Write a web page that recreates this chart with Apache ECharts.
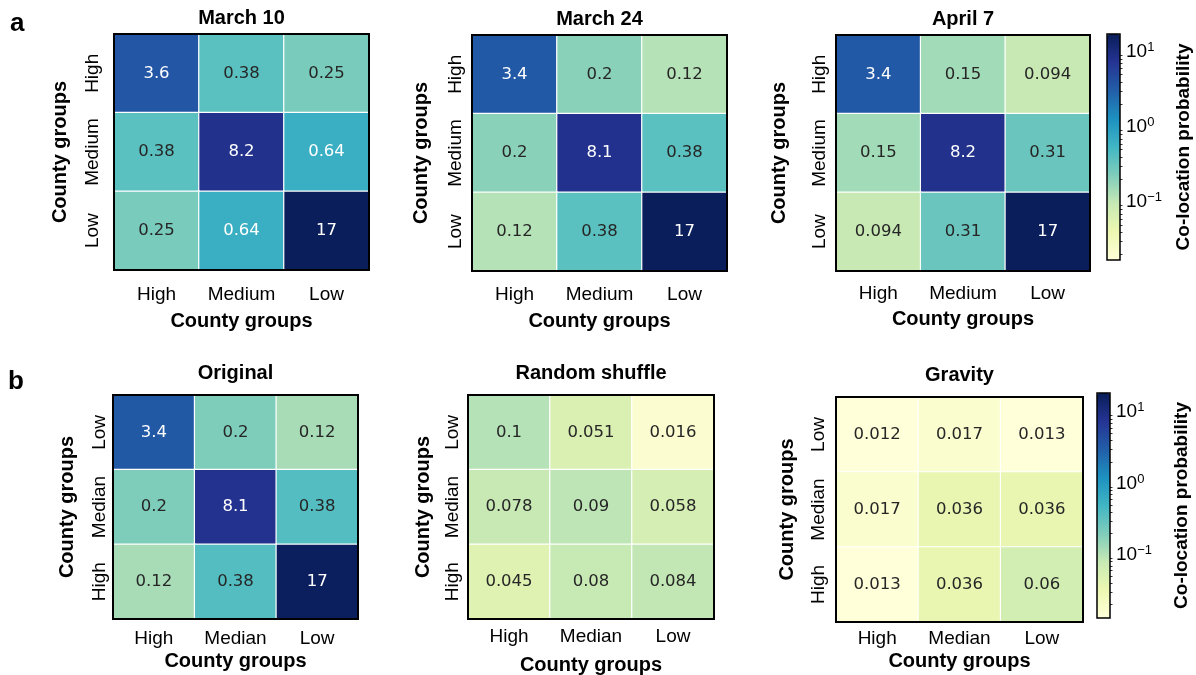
<!DOCTYPE html>
<html><head><meta charset="utf-8">
<script src="https://cdn.jsdelivr.net/npm/echarts@6/dist/echarts.min.js"></script>
<style>html,body{margin:0;padding:0;background:#fff}#c{width:1196px;height:675px}</style>
</head><body><div id="c"></div>
<script>
// ---------- data ----------
const xLabelsTop = ['High', 'Medium', 'Low'];
const yLabelsTop = ['Low', 'Medium', 'High'];      // bottom -> top
const xLabelsBottom = ['High', 'Median', 'Low'];
const yLabelsBottom = ['High', 'Median', 'Low'];   // bottom -> top
const titlesTop = ['March 10', 'March 24', 'April 7'];
const titlesBottom = ['Original', 'Random shuffle', 'Gravity'];
// matrices, rows listed top -> bottom
const march10 = [[3.6, 0.38, 0.25], [0.38, 8.2, 0.64], [0.25, 0.64, 17]];
const march24 = [[3.4, 0.2, 0.12], [0.2, 8.1, 0.38], [0.12, 0.38, 17]];
const april7 = [[3.4, 0.15, 0.094], [0.15, 8.2, 0.31], [0.094, 0.31, 17]];
const original = [[3.4, 0.2, 0.12], [0.2, 8.1, 0.38], [0.12, 0.38, 17]];
const randomShuffle = [[0.1, 0.051, 0.016], [0.078, 0.09, 0.058], [0.045, 0.08, 0.084]];
const gravity = [[0.012, 0.017, 0.013], [0.017, 0.036, 0.036], [0.013, 0.036, 0.06]];
const colorRangeA = [0.017, 17.4];
const colorRangeB = [0.013, 18.6];
const colorbarMajor = [-1, 0, 1];   // log10 decades
const ylgnbu = ['#ffffd9', '#edf8b1', '#c7e9b4', '#7fcdbb', '#41b6c4', '#1d91c0', '#225ea8', '#253494', '#081d58'];

// ---------- layout ----------
const panelsTop = [
  {g: {left: 114, top: 34, width: 255, height: 236}, xm: 15, xg: 41, ym: 11.5, yg: 44, tt: 16},
  {g: {left: 472, top: 35, width: 255, height: 236}, xm: 14, xg: 40, ym: 6.5, yg: 41, tt: 16},
  {g: {left: 836, top: 35, width: 254, height: 236}, xm: 13, xg: 38, ym: 6.5, yg: 47, tt: 16}
];
const panelsBottom = [
  {g: {left: 113, top: 395, width: 245, height: 224}, xm: 10, xg: 32, ym: 3.5, yg: 36, tt: 22},
  {g: {left: 468, top: 395, width: 246, height: 224}, xm: 8, xg: 36, ym: 5.5, yg: 35, tt: 22},
  {g: {left: 836, top: 397, width: 247, height: 225}, xm: 7, xg: 29, ym: 7.5, yg: 39, tt: 22}
];
const cbA = {left: 1107, top: 34, width: 13, height: 226, gap: 54};
const cbB = {left: 1097, top: 393, width: 13, height: 225, gap: 62};

const AX = 'Liberation Sans, Arial, sans-serif';
const lg = Math.log10;

function toData(mat) {
  const out = [];
  mat.forEach((row, r) => row.forEach((v, c) => {
    out.push({value: [c, mat.length - 1 - r, lg(v), v],
      label: {color: v > 0.5 ? '#ffffff' : '#262626'}});
  }));
  return out;
}

const grid = [], xAxis = [], yAxis = [], series = [], graphic = [];
function addPanel(p, xl, yl, mat, title) {
  const g = p.g;
  const i = grid.length;
  grid.push(Object.assign({show: true, borderColor: '#000', borderWidth: 2, backgroundColor: 'transparent',
    zlevel: 1, outerBoundsMode: 'none', containLabel: false}, g));
  xAxis.push({type: 'category', gridIndex: i, data: xl,
    axisLine: {show: false}, axisTick: {show: false}, splitLine: {show: false},
    axisLabel: {fontFamily: AX, fontSize: 19, color: '#000', margin: p.xm, interval: 0, hideOverlap: false},
    name: 'County groups', nameLocation: 'middle', nameGap: p.xg,
    nameTextStyle: {fontFamily: AX, fontSize: 20, fontWeight: 'bold', color: '#000'}});
  yAxis.push({type: 'category', gridIndex: i, data: yl,
    axisLine: {show: false}, axisTick: {show: false}, splitLine: {show: false},
    axisLabel: {fontFamily: AX, fontSize: 19, color: '#000', rotate: 90, margin: p.ym, interval: 0, hideOverlap: false},
    name: 'County groups', nameLocation: 'middle', nameRotate: 90, nameGap: p.yg,
    nameTextStyle: {fontFamily: AX, fontSize: 20, fontWeight: 'bold', color: '#000'}});
  series.push({type: 'heatmap', xAxisIndex: i, yAxisIndex: i, data: toData(mat),
    itemStyle: {borderColor: '#fff', borderWidth: 1.2},
    label: {show: true, fontFamily: 'DejaVu Sans', fontSize: 16.5, formatter: q => String(q.data.value[3])},
    emphasis: {disabled: true}});
  graphic.push({type: 'text', x: g.left + g.width / 2, y: g.top - p.tt,
    style: {text: title, fontFamily: AX, fontSize: 20, fontWeight: 'bold', fill: '#000',
      textAlign: 'center', textVerticalAlign: 'middle'}});
}
addPanel(panelsTop[0], xLabelsTop, yLabelsTop, march10, titlesTop[0]);
addPanel(panelsTop[1], xLabelsTop, yLabelsTop, march24, titlesTop[1]);
addPanel(panelsTop[2], xLabelsTop, yLabelsTop, april7, titlesTop[2]);
addPanel(panelsBottom[0], xLabelsBottom, yLabelsBottom, original, titlesBottom[0]);
addPanel(panelsBottom[1], xLabelsBottom, yLabelsBottom, randomShuffle, titlesBottom[1]);
addPanel(panelsBottom[2], xLabelsBottom, yLabelsBottom, gravity, titlesBottom[2]);

const minorTicks = [];
for (let e = -2; e <= 1; e++) for (let k = 2; k <= 9; k++) minorTicks.push(lg(k) + e);

function addColorbar(cb, range) {
  const i = grid.length;
  const mn = lg(range[0]), mx = lg(range[1]);
  grid.push({show: true, borderColor: '#000', borderWidth: 1.5, backgroundColor: 'transparent',
    zlevel: 1, outerBoundsMode: 'none', containLabel: false,
    left: cb.left, top: cb.top, width: cb.width, height: cb.height});
  xAxis.push({type: 'value', gridIndex: i, show: false, min: 0, max: 1});
  const yi = yAxis.length;
  yAxis.push({type: 'value', gridIndex: i, position: 'right', min: mn, max: mx,
    axisLine: {show: false}, splitLine: {show: false},
    axisTick: {show: true, length: 4, customValues: colorbarMajor, lineStyle: {color: '#000'}},
    axisLabel: {show: true, customValues: colorbarMajor, margin: 6,
      formatter: v => '{b|10}{s|' + (v < 0 ? '\u2212' + (-v) : v) + '}',
      rich: {b: {fontFamily: AX, fontSize: 19, color: '#000'},
             s: {fontFamily: AX, fontSize: 13, color: '#000', padding: [0, 0, 9, 0]}}},
    name: 'Co-location probability', nameLocation: 'middle', nameRotate: 90, nameGap: cb.gap,
    nameTextStyle: {fontFamily: AX, fontSize: 19, fontWeight: 'bold', color: '#000'}});
  yAxis.push({type: 'value', gridIndex: i, position: 'right', min: mn, max: mx,
    axisLine: {show: false}, splitLine: {show: false}, axisLabel: {show: false},
    axisTick: {show: true, length: 2.5, customValues: minorTicks.filter(t => t > mn && t < mx),
      lineStyle: {color: '#000', width: 0.8}}});
  series.push({type: 'line', xAxisIndex: i, yAxisIndex: yi, data: [], silent: true});
  return {mn, mx};
}
const rA = addColorbar(cbA, colorRangeA);
const rB = addColorbar(cbB, colorRangeB);

const visualMap = [
  {type: 'continuous', seriesIndex: [0, 1, 2], dimension: 2, min: rA.mn, max: rA.mx,
   orient: 'vertical', left: cbA.left, top: cbA.top, itemWidth: cbA.width, itemHeight: cbA.height,
   padding: 0, calculable: false, hoverLink: false, inRange: {color: ylgnbu}},
  {type: 'continuous', seriesIndex: [3, 4, 5], dimension: 2, min: rB.mn, max: rB.mx,
   orient: 'vertical', left: cbB.left, top: cbB.top, itemWidth: cbB.width, itemHeight: cbB.height,
   padding: 0, calculable: false, hoverLink: false, inRange: {color: ylgnbu}}
];

graphic.push({type: 'text', x: 10, y: 24, style: {text: 'a', fontFamily: AX, fontSize: 26, fontWeight: 'bold',
  fill: '#000', textVerticalAlign: 'middle'}});
graphic.push({type: 'text', x: 8, y: 382, style: {text: 'b', fontFamily: AX, fontSize: 26, fontWeight: 'bold',
  fill: '#000', textVerticalAlign: 'middle'}});

const chart = echarts.init(document.getElementById('c'), null, {renderer: 'canvas'});
chart.setOption({animation: false, backgroundColor: '#fff', grid, xAxis, yAxis, series, visualMap, graphic});
</script>
</body></html>
